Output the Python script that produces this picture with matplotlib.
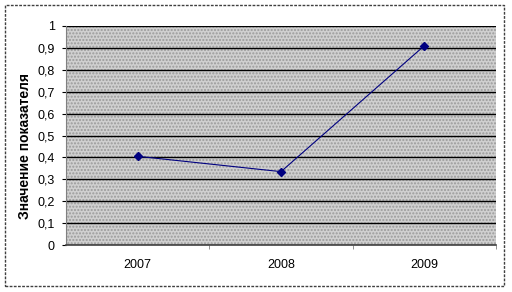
import matplotlib.pyplot as plt
from matplotlib.patches import Rectangle

years = ['2007', '2008', '2009']
values = [0.405, 0.335, 0.91]
y_ticks = [0, 0.1, 0.2, 0.3, 0.4, 0.5, 0.6, 0.7, 0.8, 0.9, 1]
y_tick_labels = ['0', '0,1', '0,2', '0,3', '0,4', '0,5', '0,6', '0,7', '0,8', '0,9', '1']

plt.rcParams['font.family'] = ['Liberation Sans', 'DejaVu Sans']

fig = plt.figure(figsize=(5.12, 2.92), dpi=100)
ax = fig.add_axes([66/512, 1 - 245/292, 430/512, 219/292])

# dotted grey fill like the old excel plot area
ax.set_facecolor('#d0d0d0')
ax.add_patch(Rectangle((0, 0), 1, 1, transform=ax.transAxes, facecolor='none',
                       edgecolor='#9a9a9a', hatch='.....', linewidth=0, zorder=0))

x = list(range(len(years)))
ax.plot(x, values, color='#000080', linewidth=0.8, marker='D', markersize=4.5, zorder=3)

ax.set_xlim(-0.5, len(years) - 0.5)
ax.set_ylim(0, 1)
ax.set_yticks(y_ticks)
ax.set_yticklabels(y_tick_labels, fontsize=9)
ax.set_xticks(x)
ax.set_xticklabels(years, fontsize=9)
ax.tick_params(axis='x', length=0, pad=10)
ax.set_xticks([0.5, 1.5, 2.5], minor=True)
ax.tick_params(axis='x', which='minor', length=3, color='#808080')
ax.tick_params(axis='y', length=3, pad=5)

ax.yaxis.grid(True, color='black', linewidth=1)
ax.set_axisbelow(True)
for s in ['top', 'right']:
    ax.spines[s].set_visible(False)
ax.spines['left'].set_color('#808080')
ax.spines['bottom'].set_color('#404040')
ax.spines['bottom'].set_linewidth(1.2)

ax.set_ylabel('Значение показателя', fontsize=10, fontweight='bold')
ax.yaxis.set_label_coords(-0.08, 0.45)

# dashed border around the whole chart
fig.patches.append(Rectangle((5/512, 1 - 286/292), 499/512, 281/292, transform=fig.transFigure,
                             fill=False, edgecolor='#404040', linestyle=(0, (2, 1)), linewidth=1))

fig.savefig('out.png', dpi=100)
